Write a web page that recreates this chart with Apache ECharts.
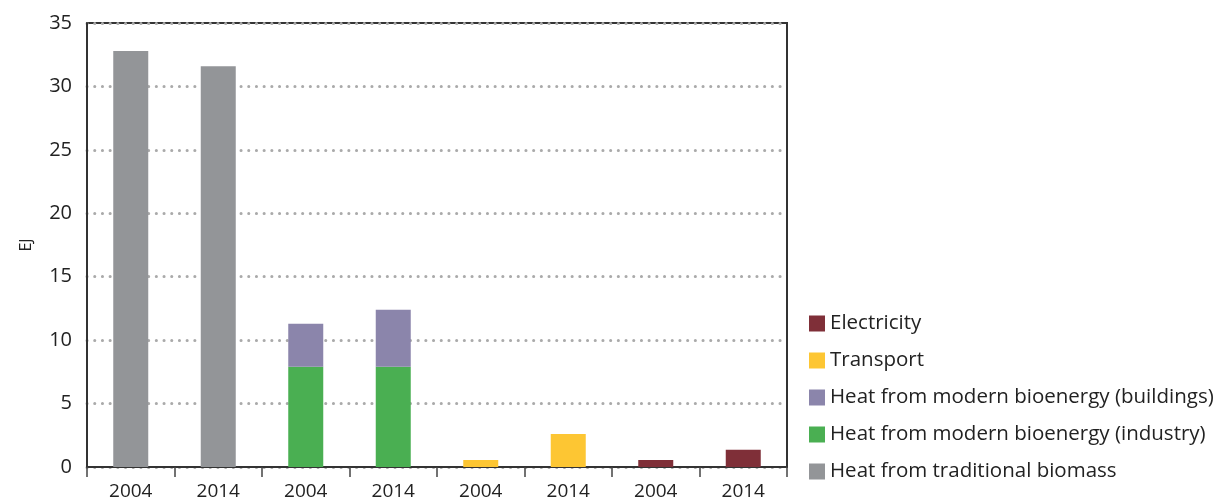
<!DOCTYPE html>
<html>
<head>
<meta charset="utf-8">
<script src="https://cdn.jsdelivr.net/npm/echarts@6/dist/echarts.min.js"></script>
<style>html,body{margin:0;padding:0;background:#fff}#c{width:1220px;height:502px}</style>
</head>
<body>
<div id="c"></div>
<script>
var categories = ['2004', '2014', '2004', '2014', '2004', '2014', '2004', '2014'];
var traditional = [32.8, 31.6, null, null, null, null, null, null];
var industry = [null, null, 7.9, 7.9, null, null, null, null];
var buildings = [null, null, 3.4, 4.5, null, null, null, null];
var transport = [null, null, null, null, 0.55, 2.6, null, null];
var electricity = [null, null, null, null, null, null, 0.55, 1.35];
var yTicks = [0, 5, 10, 15, 20, 25, 30, 35];

var FONT = 'Open Sans';
function bar(name, data, color) {
  return {
    name: name, type: 'bar', stack: 'all', data: data, barWidth: '40%',
    itemStyle: { color: color }, emphasis: { disabled: true }
  };
}
var chart = echarts.init(document.getElementById('c'), null, { renderer: 'canvas' });
chart.setOption({
  animation: false,
  textStyle: { fontFamily: FONT },
  grid: { left: 87, right: 433, top: 23, bottom: 35, show: true, borderColor: '#333', borderWidth: 2, containLabel: false },
  legend: {
    orient: 'vertical', left: 804, top: 308, itemWidth: 16, itemHeight: 16, itemGap: 16,
    icon: 'rect',
    textStyle: { fontSize: 20.5, color: '#222', fontFamily: FONT, padding: [0, 0, 0, 0] },
    data: ['Electricity', 'Transport', 'Heat from modern bioenergy (buildings)', 'Heat from modern bioenergy (industry)', 'Heat from traditional biomass']
  },
  xAxis: {
    type: 'category', data: categories,
    axisLine: { lineStyle: { color: '#333', width: 2 } },
    axisTick: { show: true, length: 10, lineStyle: { color: '#444', width: 1.5 } },
    axisLabel: { fontSize: 19, color: '#222', margin: 15, fontFamily: FONT }
  },
  yAxis: {
    type: 'value', min: 0, max: 35, interval: 5,
    name: 'EJ', nameLocation: 'middle', nameRotate: 90, nameGap: 53,
    nameTextStyle: { fontSize: 16, color: '#222', fontFamily: FONT },
    axisLine: { show: true, lineStyle: { color: '#333', width: 2 } },
    axisTick: { show: false },
    axisLabel: { fontSize: 20, color: '#222', margin: 15, fontFamily: FONT,
      formatter: function (v) { return yTicks.indexOf(v) >= 0 ? String(v) : ''; } },
    splitLine: { show: true, lineStyle: { color: '#aaa', width: 3, type: [0.1, 7.6], cap: 'round' } }
  },
  series: [
    bar('Heat from traditional biomass', traditional, '#939598'),
    bar('Heat from modern bioenergy (industry)', industry, '#4aaf52'),
    bar('Heat from modern bioenergy (buildings)', buildings, '#8b85ab'),
    bar('Transport', transport, '#fdc633'),
    bar('Electricity', electricity, '#7f2f38')
  ]
});
</script>
</body>
</html>
